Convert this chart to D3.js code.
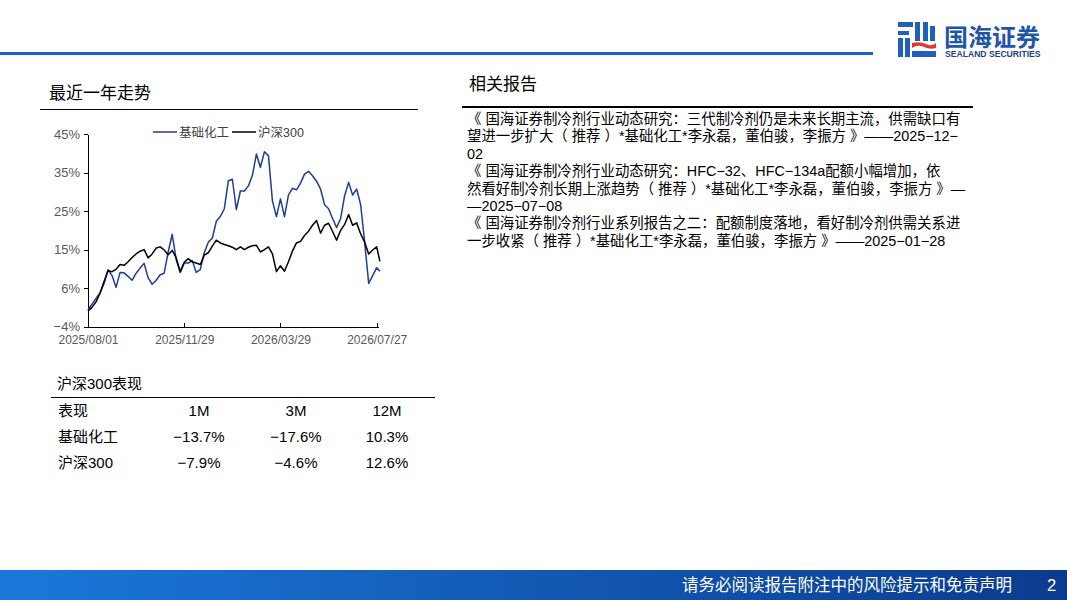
<!DOCTYPE html>
<meta charset="utf-8">
<style>
body {
  margin: 0;
  background: #fff;
}
svg {
  display: block;
  font-family: "Liberation Sans", "Noto Sans CJK SC", sans-serif;
}
.axis path, .axis line {
  stroke: #000;
  shape-rendering: crispEdges;
}
.axis text {
  fill: #595959;
}
.series {
  fill: none;
  stroke-width: 1.5;
  stroke-linejoin: round;
}
</style>
<body>
<script src="https://cdn.jsdelivr.net/npm/d3@7/dist/d3.min.js"></script>
<script>

var width = 1067,
    height = 600;

// 最近一年走势 (累计涨跌幅, %)
var dates = [
  "2025-08-01", "2025-08-06", "2025-08-11", "2025-08-16", "2025-08-21", "2025-08-26", "2025-08-31",
  "2025-09-05", "2025-09-10", "2025-09-15", "2025-09-20", "2025-09-25", "2025-09-30",
  "2025-10-05", "2025-10-10", "2025-10-15", "2025-10-20", "2025-10-25", "2025-10-30",
  "2025-11-04", "2025-11-09", "2025-11-14", "2025-11-19", "2025-11-24", "2025-11-29",
  "2025-12-04", "2025-12-09", "2025-12-14", "2025-12-19", "2025-12-24", "2025-12-29",
  "2026-01-03", "2026-01-08", "2026-01-13", "2026-01-18", "2026-01-23", "2026-01-28",
  "2026-02-02", "2026-02-07", "2026-02-12", "2026-02-17", "2026-02-22", "2026-02-27",
  "2026-03-04", "2026-03-09", "2026-03-14", "2026-03-19", "2026-03-24", "2026-03-29",
  "2026-04-03", "2026-04-08", "2026-04-13", "2026-04-18", "2026-04-23", "2026-04-28",
  "2026-05-03", "2026-05-08", "2026-05-13", "2026-05-18", "2026-05-23", "2026-05-28",
  "2026-06-02", "2026-06-07", "2026-06-12", "2026-06-17", "2026-06-22", "2026-06-27",
  "2026-07-02", "2026-07-07", "2026-07-12", "2026-07-17", "2026-07-22", "2026-07-27",
  "2026-07-31"
];

var chem = [
  0.3, 1.7, 3.2, 4.6, 7.0, 10.5, 9.0,
  6.0, 9.8, 9.7, 8.8, 7.8, 9.6,
  10.9, 12.1, 8.4, 6.8, 7.8, 9.2,
  9.6, 15.0, 19.5, 13.0, 9.8, 12.2,
  12.2, 12.8, 9.8, 10.5, 14.8, 17.5,
  18.5, 22.8, 24.0, 26.0, 33.1, 33.5,
  25.8, 30.5, 30.5, 31.8, 34.5, 39.9,
  36.5, 40.5, 39.5, 28.0, 24.0, 28.5,
  24.0, 29.5, 31.2, 30.8, 32.5, 34.8,
  35.5, 34.4, 33.0, 31.0, 27.0, 26.0,
  23.5, 21.2, 23.5, 29.3, 32.7, 29.5,
  31.0, 27.0, 17.5, 7.0, 9.0, 11.0,
  10.1
];

var hs300 = [
  0.0, 0.9, 2.3, 4.5, 7.5, 10.2, 10.0,
  10.6, 11.8, 11.6, 12.5, 13.6, 14.5,
  15.2, 15.6, 13.5, 14.5, 16.0, 16.3,
  15.5, 14.3, 15.4, 13.5, 10.0, 12.4,
  13.3, 12.5, 12.2, 11.8, 14.2, 14.8,
  16.5, 18.0, 17.3, 16.9, 16.6, 16.2,
  15.6, 16.3, 15.6, 16.2, 16.6, 16.7,
  15.0, 15.6, 16.3, 14.5, 10.0, 11.5,
  10.1, 12.5, 15.3, 17.3, 17.7, 19.2,
  20.3, 21.8, 23.0, 19.8, 21.8, 22.3,
  20.2, 18.0, 20.5, 22.0, 24.5, 21.8,
  22.4, 19.6, 17.5, 14.5, 15.5, 16.3,
  12.6
];

var seriesNames = ["基础化工", "沪深300"];
var seriesColors = ["#1f3d9c", "#000000"];

var yTickValues = [-4, 5.8, 15.6, 25.4, 35.2, 45];
var yTickLabels = ["−4%", "6%", "15%", "25%", "35%", "45%"];
var xTickDates = ["2025-08-01", "2025-11-29", "2026-03-29", "2026-07-27"];

// 沪深300表现
var periods = ["1M", "3M", "12M"];
var chemPerf = ["−13.7%", "−17.6%", "10.3%"];
var hs300Perf = ["−7.9%", "−4.6%", "12.6%"];

// 相关报告
var reportLines = [
  "《 国海证券制冷剂行业动态研究：三代制冷剂仍是未来长期主流，供需缺口有",
  "望进一步扩大（ 推荐 ）*基础化工*李永磊，董伯骏，李振方 》——2025−12−",
  "02",
  "《 国海证券制冷剂行业动态研究：HFC−32、HFC−134a配额小幅增加，依",
  "然看好制冷剂长期上涨趋势（ 推荐 ）*基础化工*李永磊，董伯骏，李振方 》—",
  "—2025−07−08",
  "《 国海证券制冷剂行业系列报告之二：配额制度落地，看好制冷剂供需关系进",
  "一步收紧（ 推荐 ）*基础化工*李永磊，董伯骏，李振方 》——2025−01−28"
];

var parse = d3.timeParse("%Y-%m-%d");
var fmt = d3.timeFormat("%Y/%m/%d");

var svg = d3.select("body").append("svg")
    .attr("width", width)
    .attr("height", height);

var defs = svg.append("defs");
var grad = defs.append("linearGradient")
    .attr("id", "footerGrad")
    .attr("x1", "0%").attr("x2", "100%");
grad.append("stop").attr("offset", "0%").attr("stop-color", "#1b78da");
grad.append("stop").attr("offset", "100%").attr("stop-color", "#0b3b8e");

// header
svg.append("rect")
    .attr("x", 0).attr("y", 52)
    .attr("width", 873).attr("height", 3)
    .attr("fill", "#1e5fbf");

var logo = svg.append("g").attr("transform", "translate(898,22)");
logo.append("rect").attr("x", 0).attr("y", 0).attr("width", 15).attr("height", 5).attr("fill", "#1f5fbf");
logo.append("rect").attr("x", 0).attr("y", 9).attr("width", 11).attr("height", 4).attr("fill", "#1f5fbf");
logo.append("rect").attr("x", 0).attr("y", 16).attr("width", 5).attr("height", 19).attr("fill", "#1f5fbf");
logo.append("rect").attr("x", 7).attr("y", 16).attr("width", 5).attr("height", 19).attr("fill", "#1f5fbf");
logo.append("rect").attr("x", 17).attr("y", 0).attr("width", 5).attr("height", 19).attr("fill", "#1f5fbf");
logo.append("rect").attr("x", 25).attr("y", 0).attr("width", 5).attr("height", 19).attr("fill", "#1f5fbf");
logo.append("rect").attr("x", 32).attr("y", 4).attr("width", 5).attr("height", 15).attr("fill", "#1f5fbf");
logo.append("path")
    .attr("d", "M14,21 Q22,19 28,22 T38,21 L38,26 Q32,28 26,25 T14,26 Z")
    .attr("fill", "#e03a2f");
logo.append("rect").attr("x", 14).attr("y", 29).attr("width", 24).attr("height", 6).attr("fill", "#1f5fbf");

svg.append("text")
    .attr("x", 944).attr("y", 46)
    .attr("font-size", 24).attr("font-weight", "bold")
    .attr("fill", "#1f55a8")
    .text("国海证券");
svg.append("text")
    .attr("x", 945).attr("y", 57)
    .attr("font-size", 8.6).attr("font-weight", "bold")
    .attr("fill", "#1c3f86")
    .text("SEALAND SECURITIES");

// section titles
svg.append("text")
    .attr("x", 49).attr("y", 99)
    .attr("font-size", 17).attr("fill", "#000")
    .text("最近一年走势");
svg.append("line")
    .attr("x1", 40).attr("x2", 418).attr("y1", 109.5).attr("y2", 109.5)
    .attr("stroke", "#000").attr("stroke-width", 1);

svg.append("text")
    .attr("x", 469).attr("y", 90)
    .attr("font-size", 17).attr("fill", "#000")
    .text("相关报告");
svg.append("line")
    .attr("x1", 462).attr("x2", 973).attr("y1", 107).attr("y2", 107)
    .attr("stroke", "#000").attr("stroke-width", 2);

svg.append("g").selectAll("text")
    .data(reportLines)
  .enter().append("text")
    .attr("x", 467)
    .attr("y", function(d, i) { return 124 + i * 17.4; })
    .attr("font-size", 14.4).attr("fill", "#000")
    .text(function(d) { return d; });

// chart
var x = d3.scaleTime()
    .domain([parse("2025-08-01"), parse("2026-07-27")])
    .range([88, 376.7]);

var y = d3.scaleLinear()
    .domain([-4, 45])
    .range([326.7, 134]);

var xAxis = d3.axisBottom(x)
    .tickValues(xTickDates.map(parse))
    .tickFormat(fmt)
    .tickSizeInner(-4)
    .tickSizeOuter(0)
    .tickPadding(9);

var yAxis = d3.axisLeft(y)
    .tickValues(yTickValues)
    .tickFormat(function(d, i) { return yTickLabels[i]; })
    .tickSizeInner(4)
    .tickSizeOuter(0)
    .tickPadding(4);

var gx = svg.append("g")
    .attr("class", "axis")
    .attr("transform", "translate(0," + y(-4) + ")")
    .call(xAxis);
gx.select(".domain").attr("d", "M88,0.5H379");
gx.selectAll("text").attr("font-size", 12);

svg.append("g")
    .attr("class", "axis")
    .attr("transform", "translate(88,0)")
    .call(yAxis)
  .selectAll("text")
    .attr("font-size", 13);

var line = d3.line()
    .x(function(d) { return x(d[0]); })
    .y(function(d) { return y(d[1]); });

var parsedDates = dates.map(parse);
var seriesData = [chem, hs300].map(function(vals) {
  return vals.map(function(v, i) { return [parsedDates[i], v]; });
});

svg.selectAll(".series")
    .data(seriesData)
  .enter().append("path")
    .attr("class", "series")
    .attr("stroke", function(d, i) { return seriesColors[i]; })
    .attr("d", line);

// legend
var legend = svg.append("g");
var legendX = [153, 232];
legendX.forEach(function(lx, i) {
  legend.append("line")
      .attr("x1", lx).attr("x2", lx + 24)
      .attr("y1", 132).attr("y2", 132)
      .attr("stroke", seriesColors[i]).attr("stroke-width", 1.5);
  legend.append("text")
      .attr("x", lx + 26).attr("y", 136.5)
      .attr("font-size", 12.5).attr("fill", "#404040")
      .text(seriesNames[i]);
});

// 沪深300表现 table
svg.append("text")
    .attr("x", 57).attr("y", 389)
    .attr("font-size", 15).attr("fill", "#000")
    .text("沪深300表现");
svg.append("line")
    .attr("x1", 51).attr("x2", 435).attr("y1", 397.5).attr("y2", 397.5)
    .attr("stroke", "#000").attr("stroke-width", 1);

var colX = [199, 296, 387];
var rows = [
  ["表现"].concat(periods),
  [seriesNames[0]].concat(chemPerf),
  [seriesNames[1]].concat(hs300Perf)
];
var rowY = [416, 442, 468];

rows.forEach(function(r, ri) {
  svg.append("text")
      .attr("x", 58).attr("y", rowY[ri])
      .attr("font-size", 15).attr("fill", "#000")
      .text(r[0]);
  r.slice(1).forEach(function(c, ci) {
    svg.append("text")
        .attr("x", colX[ci]).attr("y", rowY[ri])
        .attr("text-anchor", "middle")
        .attr("font-size", 15).attr("fill", "#000")
        .text(c);
  });
});

// footer
svg.append("rect")
    .attr("x", 0).attr("y", 570)
    .attr("width", width).attr("height", 30)
    .attr("fill", "url(#footerGrad)");
svg.append("text")
    .attr("x", 682).attr("y", 591)
    .attr("font-size", 16.5).attr("fill", "#fff")
    .text("请务必阅读报告附注中的风险提示和免责声明");
svg.append("text")
    .attr("x", 1047).attr("y", 591)
    .attr("font-size", 16.5).attr("fill", "#fff")
    .text("2");

</script>
